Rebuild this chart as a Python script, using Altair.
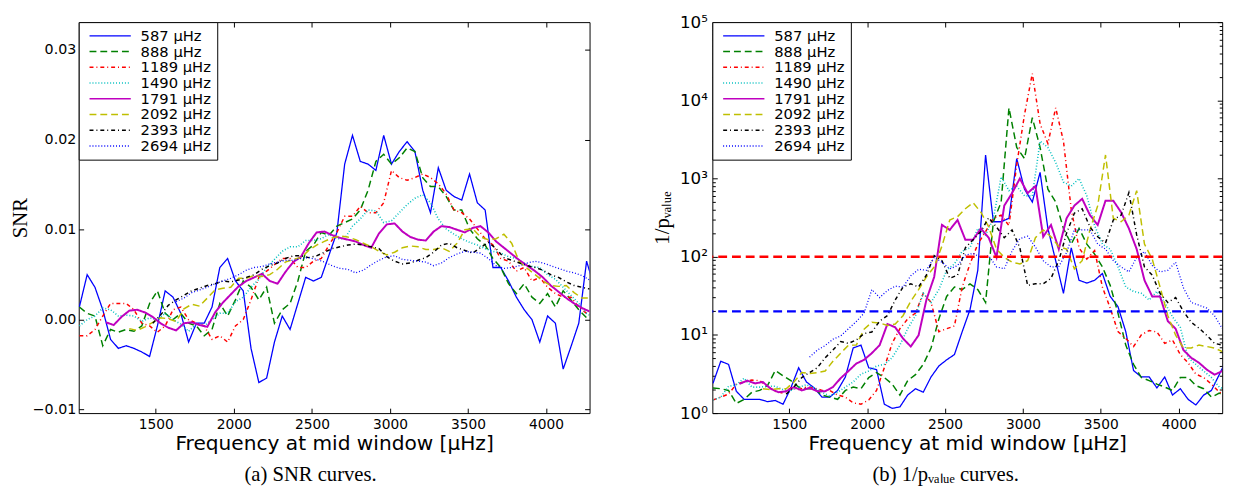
import altair as alt
import pandas as pd

# ---------------- series definitions ----------------
windows = ["587 μHz", "888 μHz", "1189 μHz", "1490 μHz",
           "1791 μHz", "2092 μHz", "2393 μHz", "2694 μHz"]
line_colors = ["#0000ff", "#008000", "#ff0000", "#00bfbf",
               "#bf00bf", "#bfbf00", "#000000", "#0000ff"]
line_dashes = [[1, 0], [7, 4], [4, 3, 1, 3], [1, 2],
               [1, 0], [7, 4], [4, 3, 1, 3], [1, 2]]
line_widths = [1.3, 1.5, 1.5, 1.6, 2.0, 1.5, 1.5, 1.3]
first_freq = [1010, 1010, 1010, 1010, 1180, 1330, 1480, 1630]
freq_step = 50

freq_ticks = [1500, 2000, 2500, 3000, 3500, 4000]
snr_ticks = [-0.01, 0.0, 0.01, 0.02, 0.03]
p_major_ticks = [1, 10, 100, 1000, 10000, 100000]
p_minor_ticks = [m * 10 ** k for k in range(5) for m in range(2, 10)]
threshold_levels = [100, 20]
threshold_colors = ["#ff0000", "#0000ff"]

# ---------------- (a) SNR values ----------------
snr_587 = [0.0014, 0.0050, 0.0036, 0.0011, -0.0022, -0.0032, -0.0029, -0.0032, -0.0036, -0.0041,
           -0.0007, 0.0032, 0.0025, 0.0007, -0.0025, -0.0004, -0.0004, 0.0014, 0.0058, 0.0068,
           0.0043, 0.0032, -0.0032, -0.0070, -0.0065, -0.0025, 0.0004, -0.0011, 0.0018, 0.0047,
           0.0043, 0.0047, 0.0072, 0.0097, 0.0173, 0.0205, 0.0176, 0.0173, 0.0166, 0.0205,
           0.0173, 0.0187, 0.0198, 0.0187, 0.0144, 0.0119, 0.0169, 0.0144, 0.0137, 0.0133,
           0.0162, 0.0130, 0.0122, 0.0058, 0.0058, 0.0043, 0.0025, 0.0011, 0.0000, -0.0025,
           0.0004, -0.0004, -0.0055, -0.0030, -0.0004, 0.0065, 0.0036]
snr_888 = [0.0014, 0.0007, 0.0004, -0.0029, -0.0011, -0.0014, -0.0011, -0.0013, -0.0007, 0.0018,
           0.0032, 0.0007, 0.0000, 0.0007, -0.0004, -0.0007, -0.0018, -0.0011, 0.0018, 0.0004,
           0.0022, 0.0043, 0.0036, 0.0022, 0.0036, -0.0004, 0.0011, 0.0018, 0.0043, 0.0076,
           0.0083, 0.0097, 0.0094, 0.0104, 0.0108, 0.0112, 0.0122, 0.0144, 0.0176, 0.0184,
           0.0173, 0.0180, 0.0191, 0.0187, 0.0158, 0.0148, 0.0148, 0.0137, 0.0122, 0.0122,
           0.0101, 0.0090, 0.0083, 0.0068, 0.0058, 0.0040, 0.0029, 0.0040, 0.0025, 0.0018,
           0.0029, 0.0014, 0.0032, 0.0022, 0.0011, 0.0002, 0.0000]
snr_1189 = [-0.0018, -0.0018, -0.0011, 0.0004, 0.0018, 0.0018, 0.0018, 0.0011, -0.0004, -0.0007,
            -0.0014, -0.0007, 0.0011, 0.0014, 0.0000, -0.0004, -0.0007, -0.0022, -0.0018, -0.0025,
            -0.0007, 0.0000, 0.0022, 0.0047, 0.0054, 0.0061, 0.0068, 0.0068, 0.0058, 0.0058,
            0.0065, 0.0068, 0.0083, 0.0097, 0.0115, 0.0115, 0.0126, 0.0119, 0.0119, 0.0130,
            0.0166, 0.0158, 0.0155, 0.0158, 0.0162, 0.0158, 0.0151, 0.0140, 0.0122, 0.0119,
            0.0112, 0.0101, 0.0090, 0.0083, 0.0068, 0.0065, 0.0054, 0.0058, 0.0043, 0.0047,
            0.0036, 0.0029, 0.0025, 0.0025, 0.0014, 0.0007, 0.0004]
snr_1490 = [-0.0007, 0.0000, 0.0004, 0.0013, 0.0011, 0.0004, 0.0005, 0.0004, -0.0002, 0.0002,
            0.0000, 0.0007, 0.0000, -0.0005, -0.0013, -0.0005, -0.0007, 0.0000, 0.0007, 0.0007,
            0.0020, 0.0025, 0.0036, 0.0045, 0.0058, 0.0067, 0.0076, 0.0081, 0.0081, 0.0088,
            0.0088, 0.0090, 0.0095, 0.0090, 0.0090, 0.0104, 0.0112, 0.0122, 0.0121, 0.0108,
            0.0110, 0.0119, 0.0128, 0.0135, 0.0139, 0.0130, 0.0112, 0.0101, 0.0095, 0.0090,
            0.0086, 0.0083, 0.0079, 0.0076, 0.0074, 0.0070, 0.0068, 0.0063, 0.0059, 0.0058,
            0.0050, 0.0045, 0.0036, 0.0027, 0.0018, 0.0007, 0.0002]
snr_1791 = [-0.0003, -0.0006, 0.0003, 0.0010, 0.0011, 0.0008, 0.0003, -0.0004, -0.0009, -0.0012,
            -0.0004, -0.0003, -0.0006, -0.0008, 0.0008, 0.0019, 0.0028, 0.0037, 0.0043, 0.0047,
            0.0051, 0.0043, 0.0040, 0.0053, 0.0064, 0.0070, 0.0085, 0.0097, 0.0098, 0.0094,
            0.0091, 0.0089, 0.0087, 0.0083, 0.0080, 0.0096, 0.0106, 0.0107, 0.0098, 0.0092,
            0.0089, 0.0088, 0.0098, 0.0104, 0.0103, 0.0100, 0.0097, 0.0102, 0.0104, 0.0097,
            0.0087, 0.0080, 0.0073, 0.0066, 0.0060, 0.0054, 0.0047, 0.0038, 0.0031, 0.0024,
            0.0018, 0.0013, 0.0009]
snr_2092 = [-0.0010, -0.0012, -0.0008, -0.0003, 0.0002, 0.0001, -0.0002, 0.0012, 0.0017, 0.0015,
            0.0024, 0.0033, 0.0035, 0.0036, 0.0046, 0.0046, 0.0049, 0.0048, 0.0050, 0.0056,
            0.0064, 0.0067, 0.0069, 0.0077, 0.0083, 0.0087, 0.0091, 0.0093, 0.0092, 0.0089,
            0.0085, 0.0081, 0.0076, 0.0072, 0.0075, 0.0080, 0.0082, 0.0081, 0.0078, 0.0078,
            0.0080, 0.0076, 0.0085, 0.0100, 0.0101, 0.0092, 0.0089, 0.0090, 0.0095, 0.0085,
            0.0064, 0.0057, 0.0050, 0.0043, 0.0038, 0.0037, 0.0038, 0.0030, 0.0024, 0.0024]
snr_2393 = [-0.0004, 0.0005, 0.0016, 0.0022, 0.0027, 0.0032, 0.0035, 0.0038, 0.0040, 0.0043,
            0.0042, 0.0044, 0.0047, 0.0050, 0.0056, 0.0060, 0.0063, 0.0068, 0.0071, 0.0071,
            0.0069, 0.0071, 0.0075, 0.0079, 0.0081, 0.0083, 0.0084, 0.0083, 0.0081, 0.0079,
            0.0070, 0.0065, 0.0062, 0.0063, 0.0066, 0.0069, 0.0075, 0.0083, 0.0085, 0.0080,
            0.0077, 0.0074, 0.0080, 0.0086, 0.0079, 0.0069, 0.0066, 0.0063, 0.0060, 0.0058,
            0.0055, 0.0050, 0.0047, 0.0042, 0.0038, 0.0036, 0.0034]
snr_2694 = [0.0020, 0.0024, 0.0030, 0.0033, 0.0036, 0.0040, 0.0043, 0.0046, 0.0050, 0.0055,
            0.0058, 0.0059, 0.0062, 0.0064, 0.0066, 0.0066, 0.0068, 0.0069, 0.0067, 0.0064,
            0.0060, 0.0057, 0.0056, 0.0052, 0.0055, 0.0061, 0.0066, 0.0070, 0.0071, 0.0067,
            0.0066, 0.0065, 0.0064, 0.0060, 0.0063, 0.0069, 0.0073, 0.0076, 0.0075, 0.0074,
            0.0068, 0.0060, 0.0057, 0.0058, 0.0060, 0.0063, 0.0065, 0.0063, 0.0060, 0.0057,
            0.0054, 0.0052, 0.0049, 0.0044]

# ---------------- (b) 1/p_value values ----------------
pval_587 = [2.4, 4.6, 4.2, 1.9, 1.5, 1.5, 1.5, 1.4, 1.45, 1.3,
            2.1, 3.8, 2.5, 2.1, 1.6, 1.6, 1.95, 2.9, 6.8, 7.4,
            3.8, 3.6, 1.3, 1.15, 1.2, 1.7, 2.05, 1.85, 2.9, 4.0,
            4.8, 5.6, 11, 21, 67, 2000, 280, 280, 310, 1800,
            730, 500, 1200, 230, 89, 34, 130, 50, 46, 50,
            61, 31, 23, 11, 3.5, 2.9, 2.9, 2.1, 2.9, 1.7,
            2.05, 1.5, 1.27, 1.7, 1.95, 3.1, 5.0]
pval_888 = [2.1, 2.05, 1.95, 1.33, 1.5, 1.85, 1.95, 2.25, 3.5, 3.0,
            2.6, 2.15, 2.05, 2.05, 1.7, 1.6, 1.5, 1.95, 2.15, 2.05,
            2.85, 3.3, 2.85, 2.35, 1.7, 2.6, 3.1, 4.2, 6.8, 16,
            31, 41, 38, 45, 38, 26, 280, 500, 8000, 2500,
            1800, 6000, 2500, 730, 500, 230, 145, 230, 145, 108,
            74, 43, 19, 7.4, 4.2, 2.85, 2.6, 2.35, 2.15, 1.95,
            2.85, 2.85, 2.25, 2.05, 1.6, 1.8, 1.6]
pval_1189 = [1.47, 1.6, 1.75, 2.35, 2.5, 2.65, 2.6, 2.2, 1.9, 1.8,
             2.1, 2.0, 2.15, 2.1, 1.95, 1.95, 1.7, 1.6, 1.35, 1.3,
             1.47, 1.95, 3.8, 7.8, 12, 16, 19, 34, 26, 11,
             12, 13, 41, 81, 145, 210, 310, 340, 250, 1500,
             6600, 22000, 5000, 2800, 8000, 3000, 400, 130, 93, 120,
             41, 22, 11, 9, 7.1, 10, 11.4, 10.9, 7.8, 8.6,
             5.6, 4.4, 3.15, 2.85, 2.35, 1.85, 1.7]
pval_1490 = [1.47, 1.6, 2.2, 2.3, 2.8, 2.15, 2.15, 2.2, 2.2, 2.0,
             1.95, 2.15, 2.3, 2.1, 1.85, 1.65, 1.85, 2.15, 2.5, 3.15,
             3.45, 4.0, 4.2, 5.1, 7.4, 12, 17.6, 34, 26, 38,
             67, 81, 118, 130, 230, 190, 310, 1050, 700, 800,
             600, 600, 3000, 2500, 1600, 900, 800, 1000, 600, 250,
             145, 125, 74, 41, 36, 34, 28, 36, 26, 17,
             12.5, 5.1, 4.2, 3.45, 2.85, 2.15, 1.95]
pval_1791 = [2.36, 2.6, 2.4, 2.5, 2.05, 1.85, 1.9, 2.15, 1.95, 2.1,
             1.9, 1.9, 2.15, 2.8, 3.45, 4.3, 4.8, 5.85, 7.4, 13.8,
             12.5, 9.0, 7.1, 9.9, 28, 55, 255, 220, 295, 165,
             165, 230, 175, 98, 450, 650, 1000, 650, 800, 180,
             255, 125, 310, 450, 550, 340, 255, 520, 520, 370,
             230, 125, 50, 31, 31, 15, 12, 6.4, 5.1, 4.4,
             3.6, 3.1, 3.45]
pval_2092 = [2.05, 2.0, 2.05, 2.05, 2.5, 3.3, 3.2, 3.3, 3.45, 4.6,
             5.85, 7.4, 7.4, 11.8, 14.5, 14.2, 13.2, 13.8, 17.6, 27,
             38, 55, 74, 137, 295, 325, 410, 490, 370, 240,
             125, 98, 85, 81, 89, 175, 220, 180, 135, 125,
             70, 89, 220, 450, 2000, 310, 280, 340, 700, 145,
             93, 41, 17.6, 9.9, 6.8, 6.8, 7.4, 7.1, 6.8, 6.1]
pval_2393 = [1.75, 2.15, 2.85, 3.3, 3.8, 5.1, 6.4, 8.2, 7.8, 8.6,
             10.4, 10.9, 15, 17.6, 28, 41, 45, 41, 58, 103,
             89, 53, 58, 130, 165, 210, 315, 240, 175, 220,
             130, 43, 45, 45, 53, 89, 200, 360, 410, 240,
             180, 150, 295, 340, 660, 190, 74, 58, 34, 26,
             30, 20, 14.5, 12.2, 9.9, 7.8, 7.4]
pval_2694 = [5.2, 6.4, 7.3, 8.8, 9.7, 12, 14.8, 19, 38, 30,
             37, 42, 41, 57, 69, 67, 98, 85, 70, 77,
             105, 110, 98, 103, 74, 70, 118, 170, 183, 133,
             89, 74, 75, 113, 220, 220, 220, 145, 125, 89,
             74, 64, 98, 116, 77, 64, 67, 85, 40, 26,
             24, 22, 17.6, 12]

snr_series = [snr_587, snr_888, snr_1189, snr_1490, snr_1791, snr_2092, snr_2393, snr_2694]
pval_series = [pval_587, pval_888, pval_1189, pval_1490, pval_1791, pval_2092, pval_2393, pval_2694]


def long_table(series_list):
    rows = []
    for name, start, lw, values in zip(windows, first_freq, line_widths, series_list):
        for i, v in enumerate(values):
            rows.append({"freq": start + freq_step * i, "value": v, "window": name, "lw": lw})
    return pd.DataFrame(rows)


snr_df = long_table(snr_series)
pval_df = long_table(pval_series)

# ---------------- shared styling ----------------
x_scale = alt.Scale(domain=[1006, 4279], nice=False, zero=False)
snr_scale = alt.Scale(domain=[-0.0104, 0.0331], nice=False, zero=False)
p_scale = alt.Scale(type="log", domain=[1, 100000], nice=False)

X_TITLE = "Frequency at mid window [μHz]"


def tick_axis(orient, values, size=5):
    return alt.Axis(orient=orient, values=values, labels=False, domain=False, grid=False,
                    ticks=True, tickSize=size, offset=-size, tickColor="black", tickWidth=1,
                    minExtent=0, maxExtent=0, title=None)


def bottom_axis():
    return alt.Axis(orient="bottom", values=freq_ticks, format="d", title=X_TITLE,
                    domain=False, grid=False, tickSize=5, offset=-5, tickColor="black",
                    labelFont="DejaVu Sans", labelFontSize=14, labelColor="black",
                    labelPadding=5, minExtent=24, maxExtent=24,
                    titleFont="DejaVu Sans", titleFontSize=20.5, titleFontWeight="normal",
                    titleColor="black", titlePadding=2.5)


legend = alt.Legend(orient="top-left", offset=0, title=None, padding=6,
                    fillColor="white", strokeColor="black", cornerRadius=0,
                    labelFont="DejaVu Sans", labelFontSize=15, labelColor="black",
                    symbolType="stroke", symbolSize=1764, symbolStrokeWidth=1.5,
                    clipHeight=16, rowPadding=0, symbolOffset=4, labelOffset=9)

color_enc = alt.Color("window:N", scale=alt.Scale(domain=windows, range=line_colors), legend=legend)
dash_enc = alt.StrokeDash("window:N", scale=alt.Scale(domain=windows, range=line_dashes), legend=legend)
width_enc = alt.StrokeWidth("lw:Q", scale=None)

# ---------------- panel (a) ----------------
snr_y_axis = alt.Axis(orient="left", values=snr_ticks, format=".2f", title="SNR",
                      domain=False, grid=False, tickSize=5, offset=-5, tickColor="black",
                      labelFont="DejaVu Sans", labelFontSize=14.5, labelColor="black",
                      labelPadding=3, minExtent=52, maxExtent=52,
                      titleFont="Liberation Serif", titleFontSize=21, titleFontWeight="normal",
                      titleColor="black", titlePadding=2.6)

snr_lines = alt.Chart(snr_df).mark_line(clip=True).encode(
    x=alt.X("freq:Q", scale=x_scale, axis=bottom_axis()),
    y=alt.Y("value:Q", scale=snr_scale, axis=snr_y_axis),
    color=color_enc, strokeDash=dash_enc, strokeWidth=width_enc,
)
snr_frame = alt.Chart(snr_df).mark_line(opacity=0).encode(
    x=alt.X("freq:Q", scale=x_scale, axis=tick_axis("top", freq_ticks)),
    y=alt.Y("value:Q", scale=snr_scale, axis=tick_axis("right", snr_ticks)),
)
panel_a = alt.layer(snr_lines, snr_frame).resolve_axis(
    x="independent", y="independent"
).properties(
    width=520, height=398,
    title=alt.TitleParams("(a) SNR curves.", orient="bottom", anchor="middle", frame="group",
                          font="Liberation Serif", fontSize=21, fontWeight="normal",
                          color="black", offset=10, dx=-24),
)

# ---------------- panel (b) ----------------
p_label_expr = ("datum.value < 5 ? '10⁰' : datum.value < 50 ? '10¹' : datum.value < 500 ? '10²' : "
                "datum.value < 5000 ? '10³' : datum.value < 50000 ? '10⁴' : '10⁵'")
p_y_axis = alt.Axis(orient="left", values=p_major_ticks, labelExpr=p_label_expr,
                    title="1/pᵥₐₗᵤₑ", domain=False, grid=False, tickSize=5, offset=-5,
                    tickColor="black", labelFont="DejaVu Sans", labelFontSize=17,
                    labelColor="black", labelPadding=5, minExtent=38, maxExtent=38,
                    titleFont="Liberation Serif", titleFontSize=21, titleFontWeight="normal",
                    titleColor="black", titlePadding=8)

p_lines = alt.Chart(pval_df).mark_line(clip=True).encode(
    x=alt.X("freq:Q", scale=x_scale, axis=bottom_axis()),
    y=alt.Y("value:Q", scale=p_scale, axis=p_y_axis),
    color=color_enc, strokeDash=dash_enc, strokeWidth=width_enc,
)
thr_layers = [
    alt.Chart(pd.DataFrame({"level": [lvl]})).mark_rule(
        color=col, strokeWidth=2.5, strokeDash=[9, 5]
    ).encode(y=alt.Y("level:Q", scale=p_scale, axis=None))
    for lvl, col in zip(threshold_levels, threshold_colors)
]
p_frame = alt.Chart(pval_df).mark_line(opacity=0).encode(
    x=alt.X("freq:Q", scale=x_scale, axis=tick_axis("top", freq_ticks)),
    y=alt.Y("value:Q", scale=p_scale, axis=tick_axis("right", p_major_ticks)),
)
p_minor_left = alt.Chart(pval_df).mark_line(opacity=0).encode(
    x=alt.X("freq:Q", scale=x_scale, axis=None),
    y=alt.Y("value:Q", scale=p_scale, axis=tick_axis("left", p_minor_ticks, size=3)),
)
p_minor_right = alt.Chart(pval_df).mark_line(opacity=0).encode(
    x=alt.X("freq:Q", scale=x_scale, axis=None),
    y=alt.Y("value:Q", scale=p_scale, axis=tick_axis("right", p_minor_ticks, size=3)),
)
panel_b = alt.layer(p_lines, *thr_layers, p_frame, p_minor_left, p_minor_right).resolve_axis(
    x="independent", y="independent"
).properties(
    width=519, height=398,
    title=alt.TitleParams("(b) 1/pᵥₐₗᵤₑ curves.", orient="bottom", anchor="middle", frame="group",
                          font="Liberation Serif", fontSize=21, fontWeight="normal",
                          color="black", offset=10, dx=-22),
)

chart = alt.hconcat(panel_a, panel_b, spacing=56).resolve_scale(
    color="independent", strokeDash="independent"
).properties(
    padding={"left": 0, "top": 0, "right": 5, "bottom": 5},
    background="white",
).configure_view(stroke="black", strokeWidth=1)

chart.save("out.html", embed_options={"renderer": "svg", "actions": False})
